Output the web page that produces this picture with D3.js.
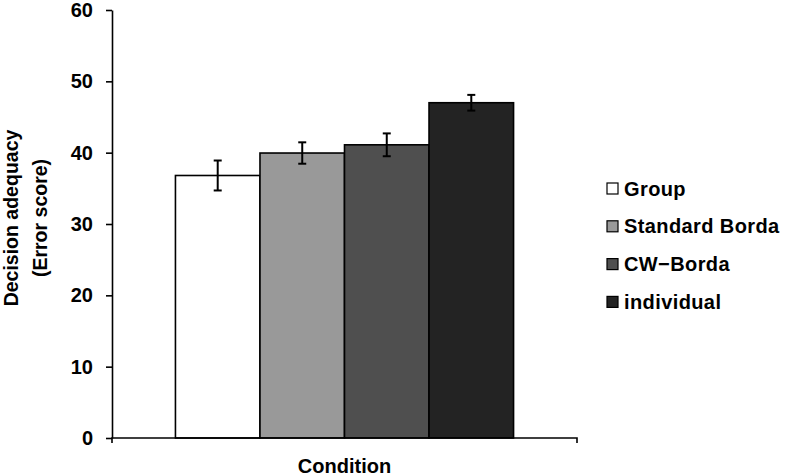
<!DOCTYPE html>
<html>
<head>
<meta charset="utf-8">
<script src="https://cdn.jsdelivr.net/npm/d3@7"></script>
<style>
  html, body { margin: 0; padding: 0; background: #fff; }
  svg { display: block; }
  text { font-family: "Liberation Sans", Arial, sans-serif; font-weight: bold; fill: #000; }
</style>
</head>
<body>
<svg id="chart" width="787" height="476"></svg>
<script>
// ---- data ----
const categories = ["Condition"];
const seriesNames = ["Group", "Standard Borda", "CW\u2212Borda", "individual"];
const seriesValues = [36.8, 39.95, 41.1, 47.0];
const seriesErrors = [2.1, 1.5, 1.6, 1.1];
const seriesColors = ["#ffffff", "#999999", "#4f4f4f", "#232323"];
const yTicks = [0, 10, 20, 30, 40, 50, 60];
const yLabelLines = ["Decision adequacy", "(Error score)"];

const svg = d3.select("#chart");

const plot = { left: 112, right: 577, top: 10, bottom: 438 };

const y = d3.scaleLinear().domain([0, 60]).range([plot.bottom, plot.top]);
const x0 = d3.scaleBand().domain(categories).range([plot.left, plot.right]).padding(0.158);
const x1 = d3.scaleBand().domain(seriesNames).range([0, x0.bandwidth()]).padding(0);

const rows = seriesNames.map((s, i) => ({ name: s, value: seriesValues[i], err: seriesErrors[i], color: seriesColors[i] }));

// bars
const g = svg.append("g").attr("transform", `translate(${x0(categories[0])},0)`);
g.selectAll("rect.bar").data(rows).join("rect")
  .attr("class", "bar")
  .attr("x", d => x1(d.name))
  .attr("y", d => y(d.value))
  .attr("width", x1.bandwidth())
  .attr("height", d => y(0) - y(d.value))
  .attr("fill", d => d.color)
  .attr("stroke", "#000")
  .attr("stroke-width", 1.6);

// error bars
const cap = 4;
const eb = g.selectAll("g.err").data(rows).join("g").attr("class", "err")
  .attr("stroke", "#000").attr("stroke-width", 2);
eb.append("line")
  .attr("x1", d => x1(d.name) + x1.bandwidth() / 2)
  .attr("x2", d => x1(d.name) + x1.bandwidth() / 2)
  .attr("y1", d => y(d.value + d.err))
  .attr("y2", d => y(d.value - d.err));
eb.append("line")
  .attr("x1", d => x1(d.name) + x1.bandwidth() / 2 - cap)
  .attr("x2", d => x1(d.name) + x1.bandwidth() / 2 + cap)
  .attr("y1", d => y(d.value + d.err))
  .attr("y2", d => y(d.value + d.err));
eb.append("line")
  .attr("x1", d => x1(d.name) + x1.bandwidth() / 2 - cap)
  .attr("x2", d => x1(d.name) + x1.bandwidth() / 2 + cap)
  .attr("y1", d => y(d.value - d.err))
  .attr("y2", d => y(d.value - d.err));

// y axis
const yAxis = svg.append("g")
  .attr("transform", `translate(${plot.left},0)`)
  .call(d3.axisLeft(y).tickValues(yTicks).tickSize(6).tickSizeOuter(0).tickPadding(13));
yAxis.selectAll("path, line").attr("stroke", "#000").attr("stroke-width", 1.6);
yAxis.selectAll("text").style("font-size", "20px").style("font-family", "'Liberation Sans', Arial, sans-serif").style("font-weight", "bold").attr("fill", "#000");

// x axis
const xAxis = svg.append("g")
  .attr("transform", `translate(0,${plot.bottom})`)
  .call(d3.axisBottom(x0).tickSize(0).tickSizeOuter(5).tickPadding(0));
xAxis.select("path").attr("stroke", "#000").attr("stroke-width", 1.6).attr("fill", "none")
  .attr("d", `M${plot.left},${5}V0H${plot.right}V${5}`);
xAxis.selectAll("text")
  .attr("y", 35).attr("dy", 0)
  .style("font-size", "20px").style("font-family", "'Liberation Sans', Arial, sans-serif").style("font-weight", "bold").attr("fill", "#000");

// y axis label
const yl = svg.append("text")
  .attr("transform", "translate(0,218) rotate(-90)")
  .attr("text-anchor", "middle")
  .style("font-size", "19.5px");
yl.selectAll("tspan").data(yLabelLines).join("tspan")
  .attr("x", 0)
  .attr("y", (d, i) => 18 + i * 29)
  .text(d => d);

// legend
const legend = svg.append("g").attr("transform", "translate(607,0)");
const li = legend.selectAll("g").data(rows).join("g")
  .attr("transform", (d, i) => `translate(0,${188.5 + i * 37.8})`);
li.append("rect")
  .attr("x", 0).attr("y", -5.5).attr("width", 11).attr("height", 11)
  .attr("fill", d => d.color).attr("stroke", "#000").attr("stroke-width", 1.2);
li.append("text")
  .attr("x", 17).attr("y", 7)
  .style("font-size", "20px")
  .style("letter-spacing", "0.4px")
  .text(d => d.name);
</script>
</body>
</html>
